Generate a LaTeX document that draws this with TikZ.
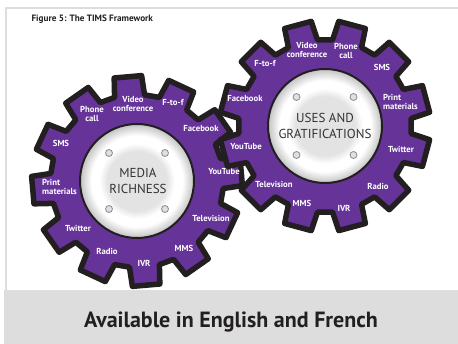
\documentclass[tikz,border=0pt]{standalone}
\usepackage{fontspec}
\setmainfont{PT Sans}
\definecolor{gearpurple}{RGB}{102,51,153}
\definecolor{inkblack}{RGB}{35,31,32}
\definecolor{framegray}{RGB}{221,221,221}
\pgfdeclareradialshading{discshade}{\pgfpointorigin}{color(0bp)=(black!11); color(13bp)=(black!11); color(16.5bp)=(white); color(20bp)=(white); color(25bp)=(black!24); color(50bp)=(black!24)}

\begin{document}
\begin{tikzpicture}[x=1pt, y=1pt,
  gearbody/.style={fill=gearpurple, draw=inkblack, line width=5.5pt, line join=round},
  hub/.style={shading=discshade, draw=inkblack, line width=2pt},
  hole/.style={circle, fill=black!12, draw=black!45, line width=0.8pt,
    minimum size=7pt, inner sep=0pt},
  tag/.style={text=white, font=\bfseries\fontsize{8.7}{9}\selectfont,
    align=center, inner sep=0pt},
  hubtext/.style={text=black!80, font=\fontsize{13}{16.5}\selectfont,
    align=center, inner sep=0pt}
]
\useasboundingbox (0,0) rectangle (458,344);

% Frame and footer band
\draw[framegray, line width=2pt] (6,54) -- (6,336) -- (458,336);
\fill[framegray] (4,0) rectangle (458,54);
\node[font=\bfseries\fontsize{22}{24}\selectfont, text=inkblack] (footer) at (231,22)
  {Available in English and French};
\node[anchor=west, font=\bfseries\fontsize{9.2}{10}\selectfont, text=inkblack] (title) at (28,325)
  {Figure 5: The TIMS Framework};

% Left gear (media richness)
\begin{scope}[shift={(137,163)}]
  \draw[gearbody] (-5:86.5) \foreach \k in {0,...,11} {
    -- ({5+30*\k-7.5}:105.5) -- ({5+30*\k+7.5}:105.5)
    -- ({5+30*\k+10}:86.5) -- ({5+30*\k+20}:86.5) } -- cycle;
  \path[hub] (0,0) circle (57);
  \foreach \dx/\dy [count=\i] in {-28/28, 28/28, -28/-28, 28/-28}
    \node[hole] (mr-hole\i) at (\dx,\dy) {};
\end{scope}
\node[hubtext] (mr) at (138,163) {MEDIA\\RICHNESS};
\node[tag] (mr-phone) at (92,230) {Phone\\call};
\node[tag] (mr-video) at (133,240) {Video\\conference};
\node[tag] (mr-ftof) at (173,242) {F-to-f};
\node[tag] (mr-facebook) at (201,215) {Facebook};
\node[tag] (mr-youtube) at (224,172) {YouTube};
\node[tag] (mr-tv) at (211,126) {Television};
\node[tag] (mr-mms) at (184,96) {MMS};
\node[tag] (mr-ivr) at (144,81) {IVR};
\node[tag] (mr-radio) at (107,93) {Radio};
\node[tag] (mr-twitter) at (78,116) {Twitter};
\node[tag, anchor=west, align=left] (mr-print) at (42,157) {Print\\materials};
\node[tag] (mr-sms) at (61,201) {SMS};

% Right gear (uses and gratifications)
\begin{scope}[shift={(325,218)}]
  \draw[gearbody] (5:86.5) \foreach \k in {0,...,11} {
    -- ({15+30*\k-7.5}:105.5) -- ({15+30*\k+7.5}:105.5)
    -- ({15+30*\k+10}:86.5) -- ({15+30*\k+20}:86.5) } -- cycle;
  \path[hub] (0,0) circle (57);
  \foreach \dx/\dy [count=\i] in {-28.5/29, 28.5/29, -28.5/-29, 28.5/-29}
    \node[hole] (ug-hole\i) at (\dx,\dy) {};
\end{scope}
\node[hubtext] (ug) at (325,218) {USES AND\\GRATIFICATIONS};
\node[tag] (ug-ftof) at (265,281) {F-to-f};
\node[tag] (ug-video) at (307,294) {Video\\conference};
\node[tag] (ug-phone) at (346,293) {Phone\\call};
\node[tag] (ug-sms) at (382,277) {SMS};
\node[tag, anchor=west, align=left] (ug-print) at (383,242) {Print\\materials};
\node[tag] (ug-twitter) at (401,195) {Twitter};
\node[tag] (ug-radio) at (378,158) {Radio};
\node[tag] (ug-ivr) at (344,136) {IVR};
\node[tag] (ug-mms) at (302,141) {MMS};
\node[tag] (ug-tv) at (274,160) {Television};
\node[tag] (ug-youtube) at (246,197) {YouTube};
\node[tag] (ug-facebook) at (245,245) {Facebook};

\end{tikzpicture}
\end{document}
